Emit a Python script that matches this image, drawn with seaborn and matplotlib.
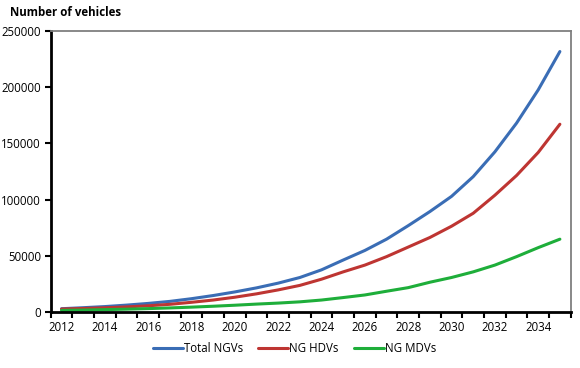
import matplotlib
matplotlib.use("Agg")
import matplotlib.pyplot as plt
import pandas as pd
import seaborn as sns

years = list(range(2012, 2036))
total_ngvs = [3300, 4200, 5200, 6500, 8000, 9800, 12200, 15000, 18200, 21800, 26000, 31000,
              37800, 46500, 55000, 65000, 77000, 89500, 103000, 120500, 142500, 168000, 197500, 231500]
ng_hdvs = [3000, 3500, 4100, 4900, 5900, 7200, 9000, 11000, 13500, 16500, 20000, 24000,
           29500, 36000, 42000, 49500, 58000, 66500, 76500, 88000, 104000, 121500, 142000, 167000]
ng_mdvs = [1800, 2100, 2500, 2900, 3400, 4000, 4700, 5500, 6400, 7400, 8300, 9400,
           11000, 13200, 15500, 18800, 22000, 26800, 31000, 36000, 42000, 49500, 57500, 65000]
series = ["Total NGVs", "NG HDVs", "NG MDVs"]
colors = ["#3A6DB5", "#BE3532", "#1EAE3A"]

df = pd.DataFrame({"pos": list(range(len(years))) * 3,
                   "value": total_ngvs + ng_hdvs + ng_mdvs,
                   "series": [s for s in series for _ in years]})

sns.set_style("white")
plt.rcParams["font.family"] = ["Open Sans", "DejaVu Sans"]
plt.rcParams["text.color"] = "black"

fig = plt.figure(figsize=(5.8, 3.68), dpi=100)
ax = fig.add_axes([0.0874, 0.151, 0.8966, 0.7656])
sns.lineplot(data=df, x="pos", y="value", hue="series", hue_order=series,
             palette=colors, linewidth=2.2, ax=ax, legend=False)

ax.set_xlim(-0.5, len(years) - 0.5)
ax.set_ylim(0, 250000)
ax.set_yticks(range(0, 250001, 50000))
ax.set_yticklabels([str(v) for v in range(0, 250001, 50000)], fontsize=8.3, color="black")
ax.set_xticks(range(0, len(years), 2))
ax.set_xticklabels([str(y) for y in years[::2]], fontsize=8.3, color="black")
ax.set_xticks([i - 0.5 for i in range(len(years) + 1)], minor=True)
ax.tick_params(axis="x", which="major", bottom=True, length=0, pad=6)
ax.tick_params(axis="x", which="minor", bottom=True, length=4, width=1.5,
               color="black", direction="out")
ax.tick_params(axis="y", left=True, length=4, width=1.5, color="black",
               direction="out", pad=3)
ax.set_xlabel("")
ax.set_ylabel("")

for side in ["left", "bottom"]:
    ax.spines[side].set_color("black")
    ax.spines[side].set_linewidth(2)
for side in ["top", "right"]:
    ax.spines[side].set_color("#7f7f7f")
    ax.spines[side].set_linewidth(1.3)

fig.text(0.017, 0.965, "Number of vehicles", fontsize=8.3, fontweight="bold", va="center")

handles = [plt.Line2D([], [], color=c, linewidth=2.2) for c in colors]
fig.legend(handles, series, loc="center", bbox_to_anchor=(0.508, 0.052), ncol=3,
           frameon=False, fontsize=8.3, handlelength=2.6, handletextpad=0.1, columnspacing=1.3)

fig.savefig("out.png", dpi=100)
